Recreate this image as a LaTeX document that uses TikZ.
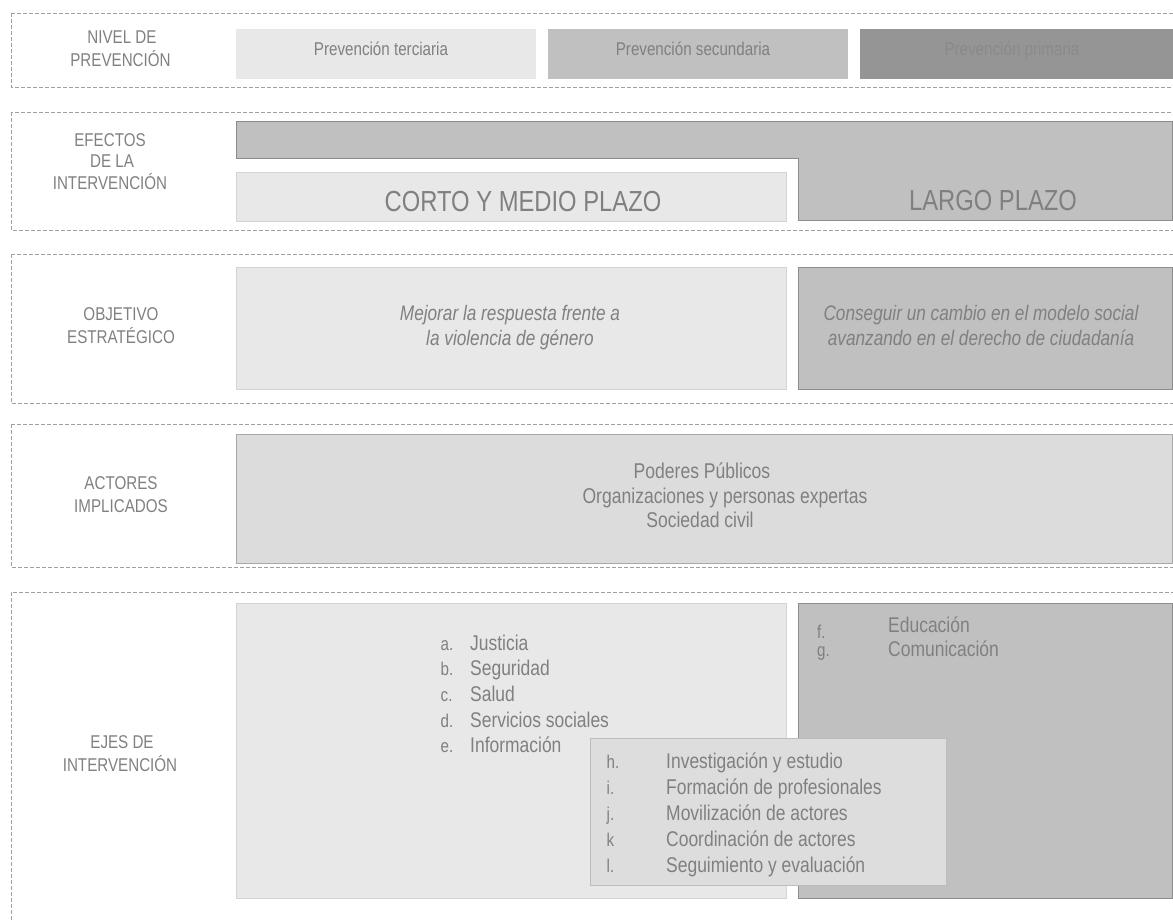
\documentclass[tikz,border=0pt]{standalone}
\usepackage{fontspec}
\setmainfont{Liberation Sans}[FakeStretch=0.82]
\definecolor{txt}{HTML}{808080}
\definecolor{dashc}{HTML}{A0A0A0}
\definecolor{lightf}{HTML}{E8E8E8}
\definecolor{lightl}{HTML}{D4D4D4}
\definecolor{midf}{HTML}{C0C0C0}
\definecolor{midl}{HTML}{8C8C8C}
\definecolor{darkf}{HTML}{959595}
\definecolor{darkt}{HTML}{8A8A8A}
\definecolor{actf}{HTML}{DCDCDC}
\definecolor{actl}{HTML}{A8A8A8}
\definecolor{ovf}{HTML}{DDDDDD}
\definecolor{ovl}{HTML}{BDBDBD}
\tikzset{
  frame/.style={draw=dashc, line width=1pt, dash pattern=on 4pt off 2pt},
  rowlabel/.style={anchor=base, inner sep=0pt, text=txt, font=\fontsize{18.5}{22}\selectfont},
  lightbox/.style={fill=lightf, draw=lightl, line width=1pt},
  midbox/.style={fill=midf, draw=midl, line width=1pt},
  actbox/.style={fill=actf, draw=actl, line width=1pt},
  ovbox/.style={fill=ovf, draw=ovl, line width=1pt},
  lvlbox/.style={anchor=north west, inner sep=0pt, minimum height=50pt},
  lvltxt/.style={anchor=base, inner sep=0pt, text=txt, font=\fontsize{18.5}{22}\selectfont},
  itemtxt/.style={anchor=base west, inner sep=0pt, text=txt, font=\fontsize{21.3}{24}\selectfont},
  itemlet/.style={anchor=base west, inner sep=0pt, text=txt, font=\fontsize{18.5}{22}\selectfont},
  objtxt/.style={anchor=base, inner sep=0pt, text=txt, font=\fontsize{21}{24}\selectfont\itshape},
  acttxt/.style={anchor=base, inner sep=0pt, text=txt, font=\fontsize{21.4}{24}\selectfont},
  bigtxt/.style={anchor=base, inner sep=0pt, text=txt, font=\fontsize{29}{32}\selectfont}
}
\begin{document}
\begin{tikzpicture}[x=1pt,y=-1pt]
\useasboundingbox (0,0) rectangle (1173,919);
\begin{scope}
\clip (0,0) rectangle (1173,919);
% dashed frames
\draw[frame] (11,13) rectangle (1190,87);
\draw[frame] (11,112) rectangle (1190,230);
\draw[frame] (11,254) rectangle (1190,403);
\draw[frame] (11,424) rectangle (1190,567);
\draw[frame] (11,592) rectangle (1190,940);
% row labels
\node[rowlabel] (l1a) at (122,43.5) {NIVEL DE};
\node[rowlabel] (l1b) at (120.5,66.5) {PREVENCIÓN};
\node[rowlabel] (l2a) at (110,146) {EFECTOS};
\node[rowlabel] (l2b) at (112,167) {DE LA};
\node[rowlabel] (l2c) at (110,189) {INTERVENCIÓN};
\node[rowlabel] (l3a) at (121,320) {OBJETIVO};
\node[rowlabel] (l3b) at (121,343) {ESTRATÉGICO};
\node[rowlabel] (l4a) at (121,489) {ACTORES};
\node[rowlabel] (l4b) at (121,512) {IMPLICADOS};
\node[rowlabel] (l5a) at (122,748) {EJES DE};
\node[rowlabel] (l5b) at (120,771.5) {INTERVENCIÓN};
% row 1
\node[lvlbox, fill=lightf, minimum width=300pt] (ter) at (236,29) {};
\node[lvlbox, fill=midf, minimum width=300pt] (sec) at (548,29) {};
\node[lvlbox, fill=darkf, minimum width=320pt] (pri) at (860,29) {};
\node[lvltxt] (tert) at (381,55) {Prevención terciaria};
\node[lvltxt] (sect) at (693,55) {Prevención secundaria};
\node[lvltxt, text=darkt] (prit) at (1012,55) {Prevención primaria};
% row 2
\draw[midbox] (236,121) -- (1172,121) -- (1172,220) -- (798,220) -- (798,158) -- (236,158) -- cycle;
\node[lightbox, anchor=north west, minimum width=550pt, minimum height=49pt] (corto) at (236,172) {};
\node[bigtxt] (cortot) at (523,211) {CORTO Y MEDIO PLAZO};
\node[bigtxt] (largot) at (993,210) {LARGO PLAZO};
% row 3
\node[lightbox, anchor=north west, minimum width=550pt, minimum height=122pt] (obj1) at (236,267) {};
\node[midbox, anchor=north west, minimum width=374pt, minimum height=122pt] (obj2) at (798,267) {};
\node[objtxt] (o1a) at (510,320) {Mejorar la respuesta frente a};
\node[objtxt] (o1b) at (510,345) {la violencia de género};
\node[objtxt] (o2a) at (981,320) {Conseguir un cambio en el modelo social};
\node[objtxt] (o2b) at (981,345) {avanzando en el derecho de ciudadanía};
% row 4
\node[actbox, anchor=north west, minimum width=936pt, minimum height=129pt] (act) at (236,434) {};
\node[acttxt] (a1) at (702,478) {Poderes Públicos};
\node[acttxt] (a2) at (725,503) {Organizaciones y personas expertas};
\node[acttxt] (a3) at (700,527) {Sociedad civil};
% row 5
\node[lightbox, anchor=north west, minimum width=550pt, minimum height=295pt] (ej1) at (236,603) {};
\node[midbox, anchor=north west, minimum width=374pt, minimum height=295pt] (ej2) at (798,603) {};
\node[ovbox, anchor=north west, minimum width=356pt, minimum height=147pt] (ej3) at (590,738) {};
\foreach \l/\t [count=\i from 0] in {a./Justicia, b./Seguridad, c./Salud, d./Servicios sociales, e./Información}{
  \node[itemlet] (la\i) at (440.5,650+25.7*\i) {\l};
  \node[itemtxt] (ta\i) at (470,650+25.7*\i) {\t};
}
\node[itemlet] (lf0) at (817,638) {f.};
\node[itemtxt] (tf0) at (888,632) {Educación};
\node[itemlet] (lf1) at (817,656) {g.};
\node[itemtxt] (tf1) at (888,656) {Comunicación};
\foreach \l/\t [count=\i from 0] in {h./Investigación y estudio, i./Formación de profesionales, j./Movilización de actores, k/Coordinación de actores, l./Seguimiento y evaluación}{
  \node[itemlet] (lh\i) at (606.5,768+26*\i) {\l};
  \node[itemtxt] (th\i) at (666,768+26*\i) {\t};
}
\end{scope}
\end{tikzpicture}
\end{document}
